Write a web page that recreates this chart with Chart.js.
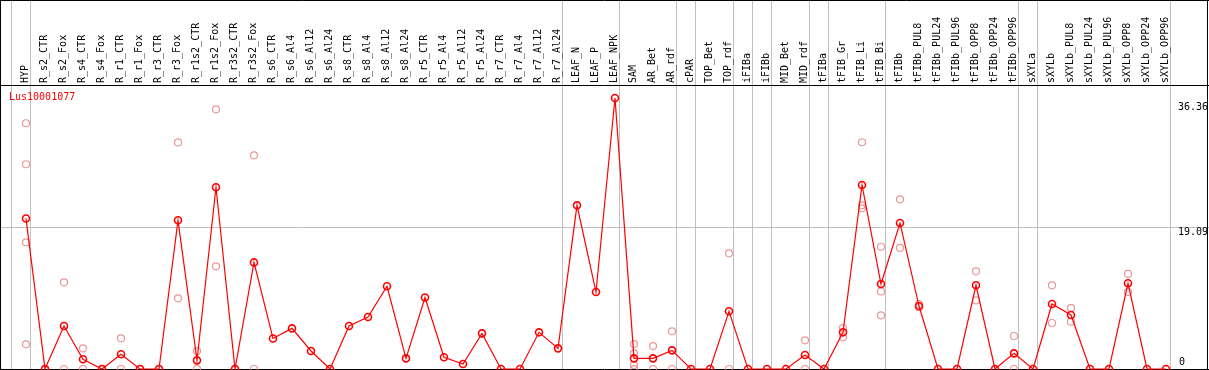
<!DOCTYPE html>
<html>
<head>
<meta charset="utf-8">
<script src="https://cdn.jsdelivr.net/npm/chart.js@4"></script>
<style>
  body { margin: 0; background: #fff; }
  canvas { display: block; }
</style>
</head>
<body>
<canvas id="expr-chart" width="1209" height="370"></canvas>
<script>
var geneName = 'Lus10001077';

var samples = ['HYP', 'R_s2_CTR', 'R_s2_Fox', 'R_s4_CTR', 'R_s4_Fox', 'R_r1_CTR', 'R_r1_Fox',
  'R_r3_CTR', 'R_r3_Fox', 'R_r1s2_CTR', 'R_r1s2_Fox', 'R_r3s2_CTR', 'R_r3s2_Fox',
  'R_s6_CTR', 'R_s6_Al4', 'R_s6_Al12', 'R_s6_Al24', 'R_s8_CTR', 'R_s8_Al4', 'R_s8_Al12',
  'R_s8_Al24', 'R_r5_CTR', 'R_r5_Al4', 'R_r5_Al12', 'R_r5_Al24', 'R_r7_CTR', 'R_r7_Al4',
  'R_r7_Al12', 'R_r7_Al24', 'LEAF_N', 'LEAF_P', 'LEAF_NPK', 'SAM', 'AR_Bet', 'AR_rdf',
  'cPAR', 'TOP_Bet', 'TOP_rdf', 'iFIBa', 'iFIBb', 'MID_Bet', 'MID_rdf', 'tFIBa', 'tFIB_Gr',
  'tFIB_Li', 'tFIB_Bi', 'tFIBb', 'tFIBb_PUL8', 'tFIBb_PUL24', 'tFIBb_PUL96', 'tFIBb_OPP8',
  'tFIBb_OPP24', 'tFIBb_OPP96', 'sXYLa', 'sXYLb', 'sXYLb_PUL8', 'sXYLb_PUL24', 'sXYLb_PUL96',
  'sXYLb_OPP8', 'sXYLb_OPP24', 'sXYLb_OPP96'];

// mean expression per sample
var means = [20.2, 0, 5.77, 1.3, 0, 1.97, 0, 0, 19.95, 1.16, 24.38, 0, 14.3,
  4.1, 5.45, 2.42, 0, 5.77, 6.98, 11.1, 1.43, 9.6, 1.57, 0.67, 4.78, 0, 0, 4.92, 2.77,
  21.96, 10.33, 36.36, 1.43, 1.43, 2.5, 0, 0, 7.74, 0, 0, 0, 1.88, 0, 4.92, 24.69, 11.4,
  19.59, 8.45, 0, 0, 11.23, 0, 2.1, 0, 8.72, 7.25, 0, 0, 11.5, 0, 0];

// individual replicate values (pale circles)
var replicates = [[32.97, 27.47, 17.0, 3.31], [0], [11.63, 0], [2.77, 0], [0], [4.12, 0], [0],
  [0], [30.4, 9.48], [2.4, 0], [34.84, 13.78], [0], [28.67, 0],
  [], [], [], [], [], [], [], [], [], [], [], [], [], [], [], [],
  [], [], [], [3.35, 2.1, 0.54, 0], [3.08, 0], [5.06, 0], [], [], [15.52, 0], [], [], [],
  [3.85, 0], [], [5.5, 4.25], [30.42, 21.96, 21.56], [16.4, 10.4, 7.2], [22.77, 16.24],
  [8.72, 8.3], [], [], [13.1, 9.2], [], [4.43, 0], [], [11.23, 6.17], [8.18, 6.35], [], [],
  [12.75, 10.33], [], []];

var yTicks = [0, 19.09, 36.36];

// separators are drawn after these sample indices
var groupEnds = [-1, 0, 28, 31, 34, 35, 37, 38, 39, 41, 42, 45, 52, 53, 60];

var repPoints = [];
replicates.forEach(function(vals, i) {
  vals.forEach(function(v) { repPoints.push({x: samples[i], y: v}); });
});

var monoFont = '10px "DejaVu Sans Mono", monospace';

var framePlugin = {
  id: 'frame',
  beforeDraw: function(chart) {
    var c = chart.ctx;
    c.save();
    c.fillStyle = '#fff';
    c.fillRect(0, 0, chart.width, chart.height);
    c.restore();
  },
  beforeDatasetsDraw: function(chart) {
    var c = chart.ctx, xs = chart.scales.x, ys = chart.scales.y;
    var step = xs.getPixelForValue(1) - xs.getPixelForValue(0);
    var x0 = xs.getPixelForValue(0);
    var bottom = Math.round(ys.getPixelForValue(0));
    c.save();
    c.lineWidth = 1;
    c.strokeStyle = '#c0c0c0';
    groupEnds.forEach(function(i) {
      var x = Math.floor(x0 + i * step + 4) + 0.5;
      c.beginPath(); c.moveTo(x, 0); c.lineTo(x, bottom); c.stroke();
    });
    var ym = Math.round(ys.getPixelForValue(yTicks[1])) + 0.5;
    c.beginPath(); c.moveTo(0, ym); c.lineTo(chart.width, ym); c.stroke();

    c.strokeStyle = '#000';
    c.beginPath();
    c.moveTo(0, 0.5); c.lineTo(chart.width, 0.5);
    c.moveTo(0, 85.5); c.lineTo(chart.width, 85.5);
    c.moveTo(0, bottom + 0.5); c.lineTo(chart.width, bottom + 0.5);
    c.moveTo(0.5, 0); c.lineTo(0.5, bottom);
    c.moveTo(chart.width - 1.5, 0); c.lineTo(chart.width - 1.5, bottom);
    c.stroke();

    c.font = monoFont;
    c.fillStyle = '#000';
    samples.forEach(function(s, i) {
      c.save();
      c.translate(Math.round(xs.getPixelForValue(i)) - 1, 83);
      c.rotate(-Math.PI / 2);
      c.textAlign = 'left';
      c.textBaseline = 'middle';
      c.fillText(s, 0, 0);
      c.restore();
    });

    c.textAlign = 'left';
    c.textBaseline = 'middle';
    c.fillText(yTicks[2].toFixed(2), 1178, Math.round(ys.getPixelForValue(yTicks[2])) + 9);
    c.fillText(yTicks[1].toFixed(2), 1178, Math.round(ys.getPixelForValue(yTicks[1])) + 5);
    c.fillText(String(yTicks[0]), 1179, bottom - 7);

    c.fillStyle = '#ff0000';
    c.fillText(geneName, 9, 97);
    c.restore();
  }
};

var ctx = document.getElementById('expr-chart').getContext('2d');
var chart = new Chart(ctx, {
  type: 'line',
  data: {
    labels: samples,
    datasets: [
      {
        label: geneName,
        data: means,
        borderColor: '#ff0000',
        borderWidth: 1.2,
        tension: 0,
        pointRadius: 3.5,
        pointBorderWidth: 1.6,
        pointBorderColor: '#ff0000',
        pointBackgroundColor: 'rgba(255,255,255,0)',
        clip: false,
        order: 0
      },
      {
        label: 'replicates',
        data: repPoints,
        showLine: false,
        pointRadius: 3.5,
        pointBorderWidth: 1.2,
        pointBorderColor: 'rgba(232,140,140,0.9)',
        pointBackgroundColor: 'rgba(255,255,255,0)',
        clip: false,
        order: 1
      }
    ]
  },
  options: {
    responsive: false,
    devicePixelRatio: 1,
    animation: false,
    layout: { autoPadding: false, padding: { left: 26, right: 43, top: 98, bottom: 1 } },
    plugins: { legend: { display: false }, tooltip: { enabled: false } },
    scales: {
      x: { type: 'category', offset: false, display: false },
      y: { min: 0, max: 36.36, display: false }
    }
  },
  plugins: [framePlugin]
});
</script>
</body>
</html>
